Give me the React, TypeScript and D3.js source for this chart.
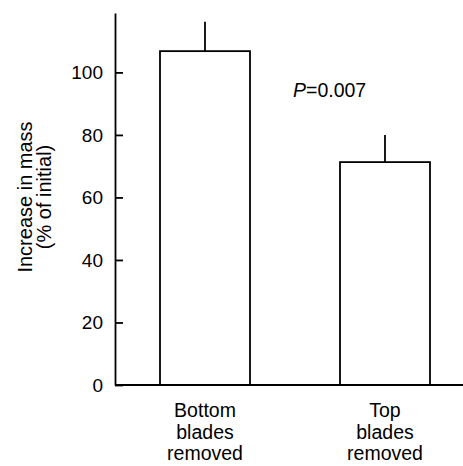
import React, { useEffect, useRef } from 'react'
import * as d3 from 'd3'

// data
const categories = ['Bottom blades removed', 'Top blades removed']
const labelLines = [['Bottom', 'blades', 'removed'], ['Top', 'blades', 'removed']]
const means = [106.8, 71.3]
const errors = [9.4, 8.7]
const yTicks = [0, 20, 40, 60, 80, 100]
const pText = '=0.007'

const W = 463, H = 466
const x0 = 115, yZero = 385, yTop = 13
const font = '"Liberation Sans", Arial, Helvetica, sans-serif'

export default function App() {
  const axisRef = useRef<SVGGElement>(null)

  const x = d3.scaleBand<string>()
    .domain(categories)
    .range([x0, 475])
    .paddingInner(0.5)
    .paddingOuter(0.25)

  const y = d3.scaleLinear().domain([0, 119]).range([yZero, yTop])

  useEffect(() => {
    const g = d3.select(axisRef.current)
    g.selectAll('*').remove()
    g.call(
      d3.axisLeft(y).tickValues(yTicks).tickSizeInner(-8).tickSizeOuter(0).tickPadding(12)
    )
    g.selectAll('path, line').attr('stroke', '#000').attr('stroke-width', 1.8)
    g.selectAll('text')
      .attr('font-family', font)
      .attr('font-size', 19)
      .attr('fill', '#000')
  }, [])

  return (
    <svg width={W} height={H} style={{ position: 'absolute', left: 0, top: 0 }}>
      <rect width={W} height={H} fill="#fff" />
      <g ref={axisRef} transform={`translate(${x0},0)`} />
      {categories.map((c, i) => {
        const bx = x(c)!
        const cx = bx + x.bandwidth() / 2
        return (
          <g key={c}>
            <line x1={cx} x2={cx} y1={y(means[i])} y2={y(means[i] + errors[i])} stroke="#000" strokeWidth={1.8} />
            <rect x={bx} y={y(means[i])} width={x.bandwidth()} height={yZero - y(means[i])}
              fill="#fff" stroke="#000" strokeWidth={1.8} />
            <text x={cx} y={417} textAnchor="middle" fontFamily={font} fontSize={19.5}>
              {labelLines[i].map((t, j) => (
                <tspan key={j} x={cx} dy={j === 0 ? 0 : 21.5}>{t}</tspan>
              ))}
            </text>
          </g>
        )
      })}
      <line x1={x0} x2={W} y1={yZero} y2={yZero} stroke="#000" strokeWidth={1.8} />
      <text x={293} y={97} fontFamily={font} fontSize={19.5}>
        <tspan fontStyle="italic">P</tspan>{pText}
      </text>
      <text transform="translate(32,197) rotate(-90)" textAnchor="middle" fontFamily={font} fontSize={20}>
        <tspan x={0} dy={0}>Increase in mass</tspan>
        <tspan x={0} dy={19}>(% of initial)</tspan>
      </text>
    </svg>
  )
}
